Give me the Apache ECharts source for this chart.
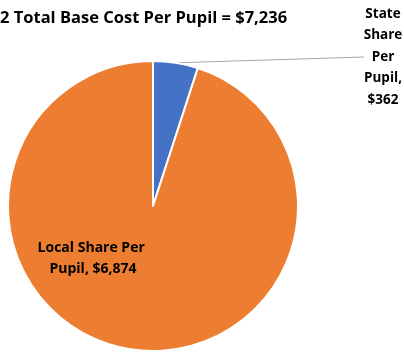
<!DOCTYPE html>
<html>
<head>
<meta charset="utf-8">
<script src="https://cdn.jsdelivr.net/npm/echarts@6/dist/echarts.min.js"></script>
<style>
  html, body { margin: 0; padding: 0; background: #fff; }
  #main { width: 404px; height: 352px; }
</style>
</head>
<body>
<div id="main"></div>
<script>
const titleText = '2 Total Base Cost Per Pupil = $7,236';
const shareNames = ['State Share Per Pupil', 'Local Share Per Pupil'];
const shareValues = [362, 6874];
const shareColors = ['#4472C4', '#ED7D31'];

const fontFamily = '"Open Sans", "Noto Sans", sans-serif';

const myChart = echarts.init(document.getElementById('main'), null, { renderer: 'canvas' });

function money(v) {
  return '$' + v.toLocaleString('en-US');
}

myChart.setOption({
  animation: false,
  title: {
    text: titleText,
    left: 0,
    top: 10,
    padding: 0,
    textStyle: { fontFamily, fontSize: 16.5, fontWeight: 'bold', color: '#000' }
  },
  series: [
    {
      type: 'pie',
      center: [153, 206],
      radius: 145,
      startAngle: 90,
      clockwise: true,
      itemStyle: { borderColor: '#fff', borderWidth: 2 },
      labelLine: { show: true, length: 20, length2: 0, lineStyle: { color: '#a6a6a6', width: 1 } },
      labelLayout(params) {
        if (params.dataIndex === 0) {
          return { x: 383, y: 57, align: 'center', verticalAlign: 'middle' };
        }
        return { x: 93, y: 259, align: 'center', verticalAlign: 'middle' };
      },
      data: shareNames.map((name, i) => ({
        name,
        value: shareValues[i],
        itemStyle: { color: shareColors[i] },
        label: i === 0
          ? {
              show: true,
              position: 'outside',
              align: 'center',
              lineHeight: 21.5,
              fontFamily, fontSize: 13.5, fontWeight: 'bold', color: '#000',
              formatter: (p) => (p.name + ', ' + money(p.value)).split(' ').join('\n')
            }
          : {
              show: true,
              position: 'inside',
              width: 120,
              overflow: 'break',
              align: 'center',
              lineHeight: 21,
              fontFamily, fontSize: 14, fontWeight: 'bold', color: '#000',
              formatter: (p) => p.name + ', ' + money(p.value)
            },
        labelLine: { show: i === 0 }
      }))
    }
  ]
});
</script>
</body>
</html>
